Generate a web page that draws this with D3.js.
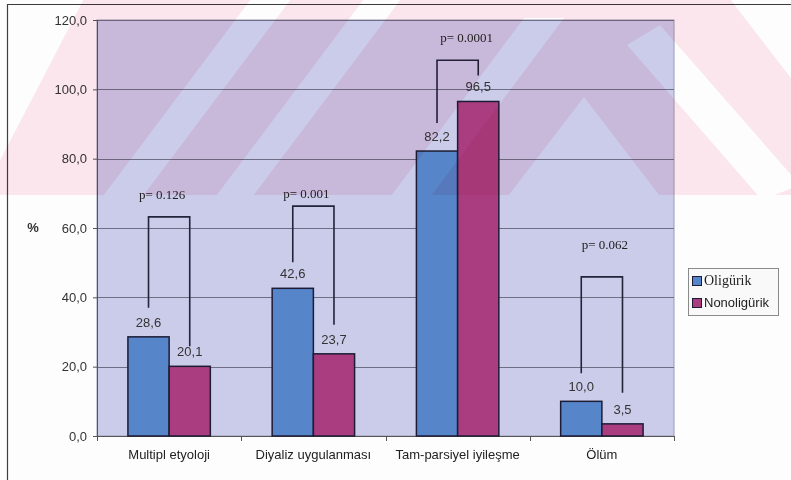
<!DOCTYPE html>
<html>
<head>
<meta charset="utf-8">
<script src="https://cdn.jsdelivr.net/npm/d3@7"></script>
<style>
  html, body { margin: 0; padding: 0; background: #fdfdfd; }
  svg { display: block; }
</style>
</head>
<body>
<svg id="chart" width="791" height="480"></svg>
<script>
// ---- data ----
const categories = ["Multipl etyoloji", "Diyaliz uygulanması", "Tam-parsiyel iyileşme", "Ölüm"];
const seriesNames = ["Oligürik", "Nonoligürik"];
const oligurik = [28.6, 42.6, 82.2, 10.0];
const nonoligurik = [20.1, 23.7, 96.5, 3.5];
const pLabels = ["p= 0.126", "p= 0.001", "p= 0.0001", "p= 0.062"];
const yTicks = [0, 20, 40, 60, 80, 100, 120];

// ---- annotation layout (value units / pixel offsets) ----
const bracketTop = [63.2, 66.3, 108.4, 45.9];      // height of bracket bar, in %
const pLabelLevel = [68.4, 68.6, 113.6, 53.9];     // baseline of p label, in %
const pLabelShift = [-7, -7, 9, 3];                // horizontal nudge of p label, px
const legGap = [[29, 20], [26, 29], [28, 26], [28, 31]]; // gap between bar top and bracket leg end, px

const colors = { "Oligürik": "#5785c9", "Nonoligürik": "#a93d80" };
const fmt = v => v.toFixed(1).replace(".", ",");

const svg = d3.select("#chart");
const plot = { left: 97, right: 674, top: 20, bottom: 436 };

const x = d3.scaleBand().domain(categories).range([plot.left, plot.right]).paddingInner(0).paddingOuter(0);
const xs = d3.scaleBand().domain(seriesNames).range([0, x.bandwidth()]).paddingInner(0).paddingOuter(0.75);
const y = d3.scaleLinear().domain([0, 120]).range([plot.bottom, plot.top]);

const rows = categories.map((c, i) => ({
  cat: c, i,
  vals: [ { s: seriesNames[0], v: oligurik[i] }, { s: seriesNames[1], v: nonoligurik[i] } ]
}));

// outer frame
svg.append("line").attr("x1", 7).attr("x2", 791).attr("y1", 4.5).attr("y2", 4.5)
  .attr("stroke", "#3a3a3a").attr("stroke-width", 1.2);
svg.append("line").attr("x1", 7.5).attr("x2", 7.5).attr("y1", 4).attr("y2", 480)
  .attr("stroke", "#4a3a3e").attr("stroke-width", 1.2);

// plot area background
svg.append("rect")
  .attr("x", plot.left).attr("y", plot.top)
  .attr("width", plot.right - plot.left).attr("height", plot.bottom - plot.top)
  .attr("fill", "#cbcbea").attr("stroke", "#9c9cb4").attr("stroke-width", 1);

// gridlines
svg.append("g").selectAll("line").data(yTicks.filter(t => t > 0)).join("line")
  .attr("x1", plot.left).attr("x2", plot.right)
  .attr("y1", d => Math.round(y(d)) + 0.5).attr("y2", d => Math.round(y(d)) + 0.5)
  .attr("stroke", "#6e6e86").attr("stroke-width", 1);

// y axis
const yAxis = svg.append("g").attr("transform", `translate(${plot.left},0)`)
  .call(d3.axisLeft(y).tickValues(yTicks).tickFormat(fmt).tickSize(4).tickPadding(6));
yAxis.select(".domain").attr("stroke", "#555");
yAxis.selectAll(".tick line").attr("stroke", "#555");
yAxis.selectAll("text").attr("font-family", "Liberation Sans, Arial, sans-serif")
  .attr("font-size", 13).attr("fill", "#333");

svg.append("text").attr("x", 33).attr("y", 232).attr("text-anchor", "middle")
  .attr("font-family", "Liberation Sans, Arial, sans-serif").attr("font-size", 13)
  .attr("font-weight", "bold").attr("fill", "#333").text("%");

// x axis with category separators
svg.append("line").attr("x1", plot.left).attr("x2", plot.right)
  .attr("y1", plot.bottom + 0.5).attr("y2", plot.bottom + 0.5).attr("stroke", "#555");
const bounds = categories.map(c => x(c)).concat([plot.right]);
svg.append("g").selectAll("line").data(bounds).join("line")
  .attr("x1", d => Math.round(d) + 0.5).attr("x2", d => Math.round(d) + 0.5)
  .attr("y1", plot.bottom).attr("y2", plot.bottom + 5).attr("stroke", "#555");
svg.append("g").selectAll("text").data(categories).join("text")
  .attr("x", d => x(d) + x.bandwidth() / 2).attr("y", 459).attr("text-anchor", "middle")
  .attr("font-family", "Liberation Sans, Arial, sans-serif").attr("font-size", 13)
  .attr("fill", "#222").text(d => d);

// bars
const groups = svg.append("g").selectAll("g").data(rows).join("g")
  .attr("transform", d => `translate(${x(d.cat)},0)`);
groups.selectAll("rect").data(d => d.vals).join("rect")
  .attr("x", d => xs(d.s)).attr("width", xs.bandwidth())
  .attr("y", d => y(d.v)).attr("height", d => y(0) - y(d.v))
  .attr("fill", d => colors[d.s]).attr("stroke", "#1c1c34").attr("stroke-width", 1.5);
groups.selectAll("text").data(d => d.vals).join("text")
  .attr("x", d => xs(d.s) + xs.bandwidth() / 2).attr("y", d => y(d.v) - 10)
  .attr("text-anchor", "middle")
  .attr("font-family", "Liberation Sans, Arial, sans-serif").attr("font-size", 13)
  .attr("fill", "#333").text(d => fmt(d.v));

// significance brackets
rows.forEach(r => {
  const cx = r.vals.map(d => x(r.cat) + xs(d.s) + xs.bandwidth() / 2);
  const top = y(bracketTop[r.i]);
  const b0 = y(r.vals[0].v) - legGap[r.i][0];
  const b1 = y(r.vals[1].v) - legGap[r.i][1];
  svg.append("path")
    .attr("d", `M${cx[0]},${b0}V${top}H${cx[1]}V${b1}`)
    .attr("fill", "none").attr("stroke", "#23233a").attr("stroke-width", 1.6);
  svg.append("text")
    .attr("x", (cx[0] + cx[1]) / 2 + pLabelShift[r.i]).attr("y", y(pLabelLevel[r.i]))
    .attr("text-anchor", "middle")
    .attr("font-family", "Liberation Serif, Times New Roman, serif").attr("font-size", 13)
    .attr("fill", "#222").text(pLabels[r.i]);
});

// legend
const lg = svg.append("g").attr("transform", "translate(688,268)");
lg.append("rect").attr("x", 0.5).attr("y", 0.5).attr("width", 90).attr("height", 47)
  .attr("fill", "#f9f9f9").attr("stroke", "#8a8a8a");
seriesNames.forEach((s, i) => {
  lg.append("rect").attr("x", 4.5).attr("y", 8.5 + i * 22).attr("width", 9).attr("height", 9)
    .attr("fill", colors[s]).attr("stroke", "#1c1c34").attr("stroke-width", 1);
  lg.append("text").attr("x", 16).attr("y", 17 + i * 22)
    .attr("font-family", i === 0 ? "Liberation Serif, Times New Roman, serif" : "Liberation Sans, Arial, sans-serif")
    .attr("font-size", i === 0 ? 14 : 13).attr("fill", "#222").text(s);
});

// faint diagonal backdrop band across the upper part of the page
const defs = svg.append("defs");
const mask = defs.append("mask").attr("id", "bandMask").attr("maskUnits", "userSpaceOnUse")
  .attr("x", 0).attr("y", 0).attr("width", 791).attr("height", 480);
mask.append("rect").attr("x", 0).attr("y", 0).attr("width", 791).attr("height", 195).attr("fill", "white");
const gaps = [
  [[-5, -5], [86, -5], [-5, 170]],
  [[100, 200], [140, 200], [294, -5], [254, -5]],
  [[213, 200], [250, 200], [404, -5], [367, -5]],
  [[388, 200], [428, 200], [564, 18], [524, 18]],
  [[505, 200], [584, 97], [663, 200]],
  [[627, 45], [660, 25], [800, 185], [762, 200]],
  [[727, -5], [800, -5], [800, 90]]
];
mask.selectAll("polygon").data(gaps).join("polygon")
  .attr("points", d => d.map(p => p.join(",")).join(" ")).attr("fill", "black");
svg.append("rect").attr("x", 0).attr("y", 0).attr("width", 791).attr("height", 195)
  .attr("fill", "#fce8ee").attr("mask", "url(#bandMask)")
  .style("mix-blend-mode", "multiply");
</script>
</body>
</html>
